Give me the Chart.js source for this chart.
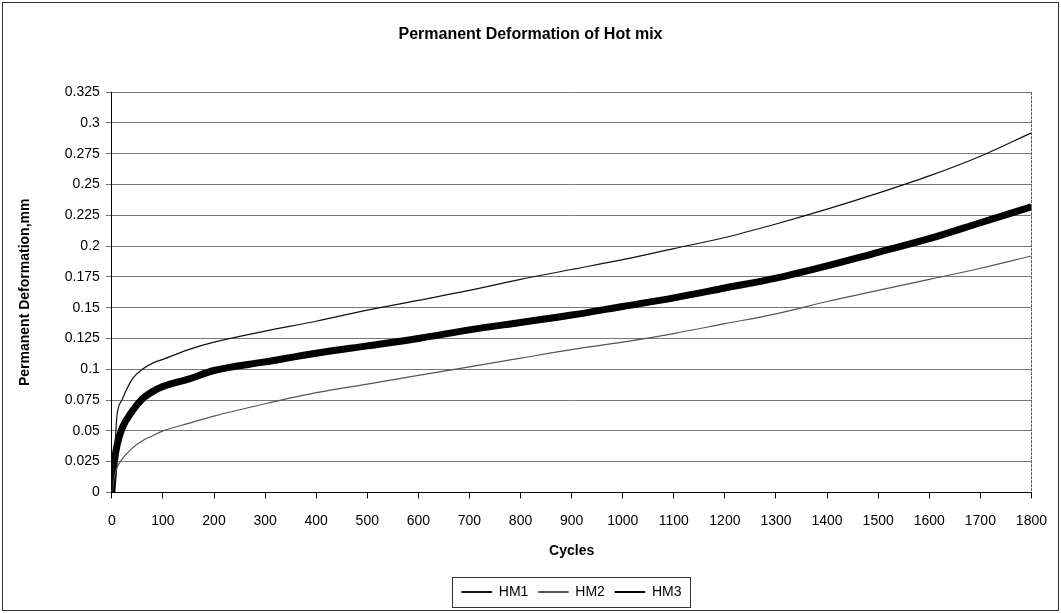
<!DOCTYPE html>
<html>
<head>
<meta charset="utf-8">
<title>Permanent Deformation of Hot mix</title>
<script src="https://cdn.jsdelivr.net/npm/chart.js@4.4.1/dist/chart.umd.min.js"></script>
<style>
  html, body { margin: 0; padding: 0; background: #fff; }
  #wrap { position: relative; width: 1061px; height: 613px; }
</style>
</head>
<body>
<div id="wrap"><canvas id="myChart"></canvas></div>
<script>
"use strict";

// values
const cycles = [0, 5, 10, 20, 40, 60, 80, 100, 150, 200, 300, 400, 500, 600, 700, 800, 900, 1000, 1100, 1200, 1300, 1400, 1500, 1600, 1700, 1800];
const hm1 = [0, 0.030, 0.062, 0.075, 0.092, 0.100, 0.105, 0.108, 0.116, 0.122, 0.131, 0.139, 0.148, 0.156, 0.164, 0.173, 0.181, 0.189, 0.198, 0.207, 0.218, 0.230, 0.243, 0.257, 0.273, 0.292];
const hm2 = [0, 0.012, 0.020, 0.027, 0.036, 0.042, 0.046, 0.050, 0.056, 0.062, 0.072, 0.081, 0.088, 0.095, 0.102, 0.109, 0.116, 0.122, 0.129, 0.137, 0.145, 0.155, 0.164, 0.173, 0.182, 0.192];
const hm3 = [0, 0.025, 0.038, 0.052, 0.066, 0.076, 0.082, 0.086, 0.092, 0.099, 0.106, 0.113, 0.119, 0.125, 0.132, 0.138, 0.144, 0.151, 0.158, 0.166, 0.174, 0.184, 0.195, 0.206, 0.219, 0.232];
const seriesNames = ['HM1', 'HM2', 'HM3'];

function toPoints(vals) {
  var pts = [];
  for (let i = 0; i < cycles.length; i++) {
    pts.push({ x: cycles[i], y: vals[i] });
  }
  return pts;
}

const fontFam = "'Liberation Sans', Arial, sans-serif";

// white page, outer frame, right edge of plot, box round the legend
const framePlugin = {
  id: 'frame',
  beforeDraw(chart) {
    const c = chart.ctx;
    c.save();
    c.fillStyle = '#fff';
    c.fillRect(0, 0, chart.width, chart.height);
    c.strokeStyle = '#333';
    c.lineWidth = 1;
    c.strokeRect(2.5, 2.5, chart.width - 5, chart.height - 5);
    c.restore();
  },
  afterDraw(chart) {
    const c = chart.ctx;
    const a = chart.chartArea;
    c.save();
    c.strokeStyle = '#555';
    c.lineWidth = 1;
    c.setLineDash([3, 1]);
    c.beginPath();
    c.moveTo(Math.round(a.right) + 0.5, a.top);
    c.lineTo(Math.round(a.right) + 0.5, a.bottom);
    c.stroke();
    c.setLineDash([]);
    const boxes = chart.legend.legendHitBoxes;
    if (boxes && boxes.length) {
      let l = Infinity, r = -Infinity, t = Infinity, b = -Infinity;
      boxes.forEach(function (h) {
        l = Math.min(l, h.left); r = Math.max(r, h.left + h.width);
        t = Math.min(t, h.top); b = Math.max(b, h.top + h.height);
      });
      c.strokeStyle = '#333';
      c.strokeRect(Math.round(l - 10) + 0.5, Math.round(t - 8) + 0.5, Math.round(r - l + 18), Math.round(b - t + 16));
    }
    c.restore();
  }
};

let ctx = document.getElementById('myChart').getContext('2d');
var defChart = new Chart(ctx, {
  type: 'line',
  data: {
    datasets: [{
      label: seriesNames[0],
      data: toPoints(hm1),
      borderColor: '#111',
      backgroundColor: '#111',
      borderWidth: 1.2,
      pointRadius: 0,
      cubicInterpolationMode: 'monotone'
    }, {
      label: seriesNames[1],
      data: toPoints(hm2),
      borderColor: '#555',
      backgroundColor: '#555',
      borderWidth: 1.2,
      pointRadius: 0,
      cubicInterpolationMode: 'monotone'
    }, {
      label: seriesNames[2],
      data: toPoints(hm3),
      borderColor: '#000',
      backgroundColor: '#000',
      borderWidth: 7,
      pointRadius: 3.5,
      pointStyle: 'crossRot',
      pointBorderWidth: 1.5,
      cubicInterpolationMode: 'monotone'
    }]
  },
  options: {
    responsive: true,
    maintainAspectRatio: false,
    animation: false,
    layout: { padding: { left: 10, right: 10, top: 0, bottom: 4 } },
    scales: {
      x: {
        type: 'linear',
        min: 0,
        max: 1800,
        ticks: {
          stepSize: 100,
          color: '#000',
          font: { family: fontFam, size: 14 },
          padding: 14,
          maxRotation: 0,
          autoSkip: false,
          callback: function (v) { return String(v); }
        },
        grid: { display: true, drawOnChartArea: false, drawTicks: true, tickLength: 6, color: '#000' },
        border: { display: true, color: '#000', width: 1 },
        title: {
          display: true,
          text: 'Cycles',
          color: '#000',
          font: { family: fontFam, size: 14, weight: 'bold' },
          padding: { top: 0, bottom: 15 }
        }
      },
      y: {
        min: 0,
        max: 0.325,
        ticks: {
          stepSize: 0.025,
          color: '#000',
          font: { family: fontFam, size: 14 },
          padding: 6,
          callback: function (v) { return String(Math.round(v * 1000) / 1000); }
        },
        grid: { color: '#777', lineWidth: 1, tickLength: 6, drawTicks: true },
        border: { display: true, color: '#000', width: 1 },
        title: {
          display: true,
          text: 'Permanent Deformation,mm',
          color: '#000',
          font: { family: fontFam, size: 14, weight: 'bold' },
          padding: { top: 7, bottom: 25 }
        }
      },
      // empty right axis, only to hold the space right of the plot
      yRight: {
        position: 'right',
        display: true,
        ticks: { display: false },
        grid: { display: false, drawTicks: false },
        border: { display: false },
        afterFit: function (s) { s.width = 19; }
      }
    },
    plugins: {
      title: {
        display: true,
        text: 'Permanent Deformation of Hot mix',
        color: '#000',
        font: { family: fontFam, size: 16, weight: 'bold' },
        padding: { top: 25, bottom: 48 }
      },
      legend: {
        position: 'bottom',
        fullSize: false,
        labels: {
          color: '#000',
          font: { family: fontFam, size: 14 },
          boxWidth: 30,
          boxHeight: 1,
          padding: 10,
          generateLabels: function (chart) {
            const items = Chart.defaults.plugins.legend.labels.generateLabels(chart);
            items.forEach(function (it) { it.lineWidth = 1; });
            return items;
          }
        }
      },
      tooltip: { enabled: false }
    }
  },
  plugins: [framePlugin]
});
</script>
</body>
</html>
